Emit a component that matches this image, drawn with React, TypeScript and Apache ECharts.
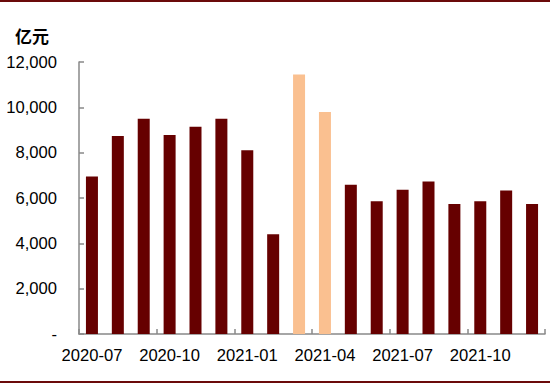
import React, { useEffect, useRef } from "react";
import * as echarts from "echarts";

const categories = [
  "2020-07", "2020-08", "2020-09", "2020-10", "2020-11", "2020-12",
  "2021-01", "2021-02", "2021-03", "2021-04", "2021-05", "2021-06",
  "2021-07", "2021-08", "2021-09", "2021-10", "2021-11", "2021-12",
];
const values = [
  6950, 8730, 9500, 8780, 9140, 9500,
  8110, 4400, 11450, 9790, 6590, 5860,
  6360, 6730, 5740, 5860, 6330, 5730,
];
const highlighted = ["2021-03", "2021-04"];
const unitLabel = "亿元";
const yMin = 0;
const yMax = 12000;
const yStep = 2000;

const DARK = "#660000";
const LIGHT = "#FAC090";
const AXIS = "#888888";
const LABEL_FONT = "'Liberation Sans', Arial, sans-serif";

export default function App() {
  const ref = useRef<HTMLDivElement>(null);
  useEffect(() => {
    if (!ref.current) return;
    const chart = echarts.init(ref.current, undefined, { renderer: "svg" });
    chart.setOption({
      animation: false,
      backgroundColor: "#ffffff",
      grid: { left: 79, right: 5, top: 62, bottom: 51, containLabel: false },
      graphic: [
        {
          type: "line",
          shape: { x1: 0, y1: 1, x2: 550, y2: 1 },
          style: { stroke: "#6b0a0a", lineWidth: 2 },
        },
        {
          type: "line",
          shape: { x1: 0, y1: 382, x2: 550, y2: 382 },
          style: { stroke: "#6b0a0a", lineWidth: 2 },
        },
        {
          type: "text",
          left: 15,
          top: 27,
          style: {
            text: unitLabel,
            font: "bold 17px 'Noto Sans CJK SC', sans-serif",
            fill: "#000000",
          },
        },
      ],
      xAxis: {
        type: "category",
        data: categories,
        boundaryGap: true,
        axisLine: { show: true, lineStyle: { color: AXIS, width: 1.5 } },
        axisTick: {
          show: true,
          inside: true,
          length: 5,
          interval: 2,
          alignWithLabel: false,
          lineStyle: { color: AXIS, width: 1.5 },
        },
        axisLabel: {
          interval: 2,
          margin: 13,
          color: "#000000",
          fontSize: 16.6,
          fontFamily: LABEL_FONT,
        },
        splitLine: { show: false },
      },
      yAxis: {
        type: "value",
        min: yMin,
        max: yMax,
        interval: yStep,
        axisLine: { show: true, lineStyle: { color: AXIS, width: 1.5 } },
        axisTick: {
          show: true,
          inside: true,
          length: 5,
          lineStyle: { color: AXIS, width: 1.5 },
        },
        axisLabel: {
          margin: 22,
          color: "#000000",
          fontSize: 16.6,
          fontFamily: LABEL_FONT,
          formatter: (v: number) =>
            v === 0 ? "-" : v.toLocaleString("en-US"),
        },
        splitLine: { show: false },
      },
      series: [
        {
          type: "bar",
          barWidth: 12,
          data: values.map((v, i) => ({
            value: v,
            itemStyle: {
              color: highlighted.includes(categories[i]) ? LIGHT : DARK,
            },
          })),
        },
      ],
    });
    return () => chart.dispose();
  }, []);
  return (
    <div
      ref={ref}
      style={{ position: "fixed", left: 0, top: 0, width: 550, height: 385 }}
    />
  );
}
